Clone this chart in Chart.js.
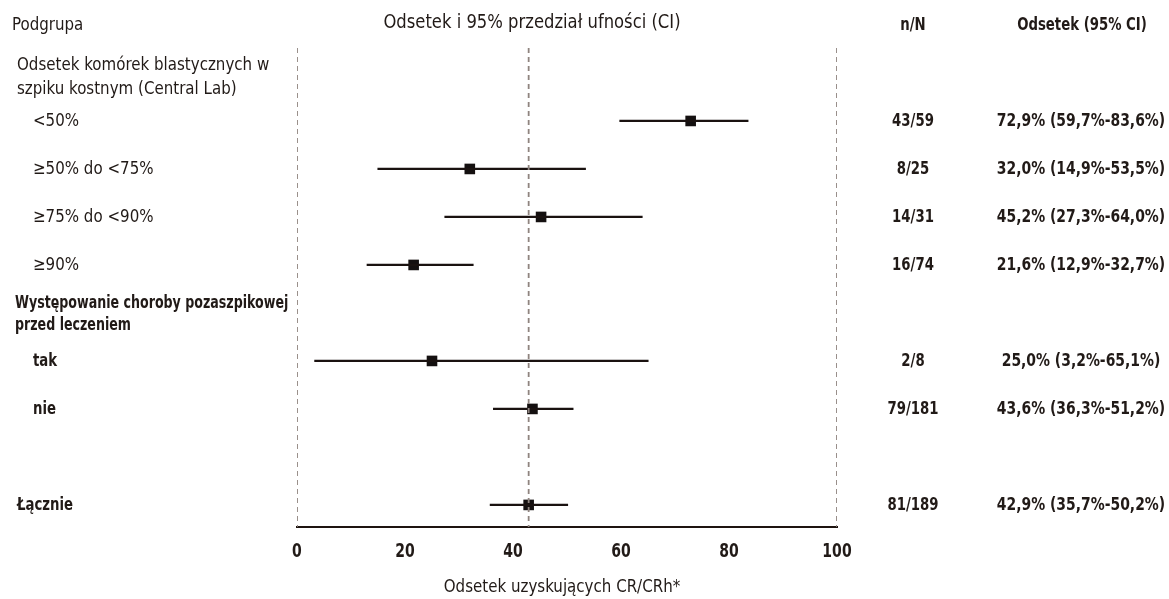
<!DOCTYPE html>
<html lang="pl">
<head>
    <meta charset="UTF-8">
    <title>Odsetek CR/CRh w podgrupach</title>
    <style>
        html, body {
            margin: 0;
            padding: 0;
            background: #ffffff;
        }
        .wrap {
            position: relative;
            width: 1169px;
            height: 599px;
        }
    </style>
</head>
<body>
    <div class="wrap">
        <canvas id="forest"></canvas>
    </div>

    <script src="https://cdn.jsdelivr.net/npm/chart.js"></script>
    <script>
        // dane
        const subgroups = ['<50%', '≥50% do <75%', '≥75% do <90%', '≥90%', 'tak', 'nie', 'Łącznie'];
        const rowPos = [0, 1, 2, 3, 5, 6, 8];
        const nN = ['43/59', '8/25', '14/31', '16/74', '2/8', '79/181', '81/189'];
        const est = [72.9, 32.0, 45.2, 21.6, 25.0, 43.6, 42.9];
        const lower = [59.7, 14.9, 27.3, 12.9, 3.2, 36.3, 35.7];
        const upper = [83.6, 53.5, 64.0, 32.7, 65.1, 51.2, 50.2];
        const boldRow = [false, false, false, false, true, true, true];

        const groupLines = [
            ['Odsetek komórek blastycznych w', 'szpiku kostnym (Central Lab)'],
            ['Występowanie choroby pozaszpikowej', 'przed leczeniem']
        ];
        const groupPos = [[-1.15, -0.65], [3.79, 4.25]];

        const refLines = [0, 42.9, 100];
        const xTicks = [0, 20, 40, 60, 80, 100];
        const yMin = -1.52, yMax = 8.46;

        const FONT = "'Liberation Sans Narrow', 'DejaVu Sans Condensed', 'Arial Narrow', sans-serif";
        const INK = '#211a17';

        const fmt = v => v.toFixed(1).replace('.', ',') + '%';

        const datasets = [];

        // linie przerywane (0, wynik łączny, 100)
        refLines.forEach(v => {
            datasets.push({
                type: 'line',
                data: [{ x: v, y: yMin }, { x: v, y: yMax }],
                borderColor: '#8f847f',
                borderWidth: 1.8,
                borderDash: [5, 4],
                pointRadius: 0
            });
        });

        // przedziały ufności
        est.forEach((e, i) => {
            datasets.push({
                type: 'line',
                data: [{ x: lower[i], y: rowPos[i] }, { x: upper[i], y: rowPos[i] }],
                borderColor: '#1a1210',
                borderWidth: 2.2,
                pointRadius: 0
            });
        });

        // punkty (kwadraty)
        datasets.push({
            type: 'scatter',
            data: est.map((e, i) => ({ x: e, y: rowPos[i] })),
            pointStyle: 'rect',
            pointRadius: 7.5,
            pointBackgroundColor: '#141010',
            pointBorderColor: '#141010',
            pointBorderWidth: 0
        });

        // teksty: kolumny tabeli, opisy osi (czcionka zwężona w poziomie)
        const tablePlugin = {
            id: 'tableText',
            afterDraw(chart) {
                const ctx = chart.ctx;
                const y = chart.scales.y;
                const x = chart.scales.x;
                ctx.fillStyle = INK;
                ctx.textBaseline = 'middle';

                const put = (txt, px, py, align, bold, size, sx) => {
                    ctx.save();
                    ctx.font = (bold ? 'bold ' : 'normal ') + size + 'px ' + FONT;
                    ctx.textAlign = align;
                    ctx.translate(px, py);
                    ctx.scale(sx || (bold ? 0.82 : 0.93), 1);
                    ctx.fillText(txt, 0, 0);
                    ctx.restore();
                };

                // nagłówki
                put('Podgrupa', 12, 25, 'left', false, 18);
                put('Odsetek i 95% przedział ufności (CI)', 532, 23, 'center', false, 19, 0.96);
                put('n/N', 913, 25, 'center', true, 18);
                put('Odsetek (95% CI)', 1082, 25, 'center', true, 18);

                // grupy
                groupLines.forEach((lines, g) => {
                    lines.forEach((t, k) => {
                        put(t, g === 0 ? 17 : 15, y.getPixelForValue(groupPos[g][k]), 'left', g === 1, 18, g === 1 ? 0.78 : 0.93);
                    });
                });

                // wiersze
                subgroups.forEach((s, i) => {
                    const py = y.getPixelForValue(rowPos[i]);
                    const x0 = s === 'Łącznie' ? 17 : 33;
                    put(s, x0, py, 'left', boldRow[i], 18);
                    put(nN[i], 913, py, 'center', true, 18);
                    put(fmt(est[i]) + ' (' + fmt(lower[i]) + '-' + fmt(upper[i]) + ')', 1081, py, 'center', true, 18, 0.86);
                });

                // etykiety osi X i tytuł osi
                xTicks.forEach(v => {
                    put(String(v), x.getPixelForValue(v), 552, 'center', true, 19);
                });
                put('Odsetek uzyskujących CR/CRh*', 562, 587, 'center', false, 18);
            }
        };

        new Chart(document.getElementById('forest'), {
            data: { datasets: datasets },
            options: {
                responsive: true,
                maintainAspectRatio: false,
                animation: false,
                layout: {
                    padding: { left: 297, right: 332, top: 48, bottom: 0 }
                },
                plugins: {
                    legend: { display: false },
                    tooltip: { enabled: false }
                },
                scales: {
                    x: {
                        type: 'linear',
                        min: 0,
                        max: 100,
                        afterBuildTicks: s => { s.ticks = xTicks.map(v => ({ value: v })); },
                        afterFit: s => { s.height = 72; },
                        grid: { display: false, drawTicks: false },
                        border: { display: true, color: '#1e1410', width: 2 },
                        ticks: { display: false }
                    },
                    y: {
                        type: 'linear',
                        display: false,
                        reverse: true,
                        min: yMin,
                        max: yMax
                    }
                }
            },
            plugins: [tablePlugin]
        });
    </script>
</body>
</html>
